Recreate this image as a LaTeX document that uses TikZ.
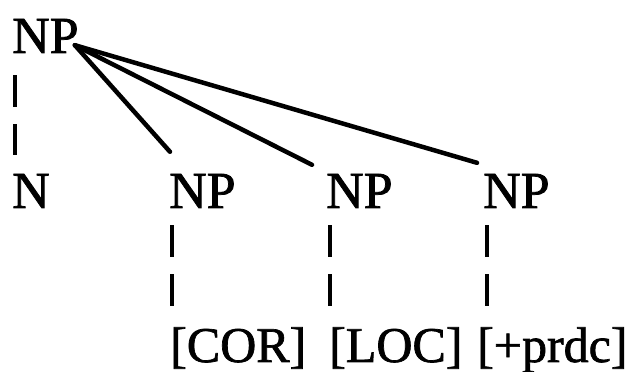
\documentclass[tikz,border=0pt]{standalone}
\usepackage{fontspec}
\newfontfamily\treefont{Liberation Serif}[FakeBold=1.4]
\usepackage{tikz}

\tikzset{
  cat/.style={font=\treefont\fontsize{52}{60}\selectfont, inner sep=0pt, anchor=base west,
    text height=35pt, text depth=0pt},
  feat/.style={cat, font=\treefont\fontsize{50}{60}\selectfont},
  branch/.style={line width=4.5pt, line cap=round},
  stalk/.style={line width=3.5pt, dash pattern=on 32pt off 17pt}
}

\begin{document}
\begin{tikzpicture}[x=1pt,y=1pt]
    \useasboundingbox (0,0) rectangle (638,372);
    % Top category
    \node[cat] (root) at (12,319) {NP};
    % Daughters
    \node[cat] (n)   at (12,164)  {N};
    \node[cat] (np1) at (169,164) {NP};
    \node[cat] (np2) at (326,164) {NP};
    \node[cat] (np3) at (483,164) {NP};
    % Features
    \node[feat] (cor)  at (170,10) {[COR]};
    \node[feat] (loc)  at (329,10) {[LOC]};
    \node[feat] (prdc) at (477,10) {[+prdc]};
    % Branch ends
    \coordinate (fork) at ([xshift=-4pt,yshift=8pt]root.south east);
    \coordinate (e1) at ([xshift=1pt,yshift=21pt]np1.north west);
    \coordinate (e2) at ([xshift=-14pt,yshift=8pt]np2.north west);
    \coordinate (e3) at ([xshift=-6pt,yshift=10pt]np3.north west);
    \draw[branch] (fork) -- (e1);
    \draw[branch] (fork) -- (e2);
    \draw[branch] (fork) -- (e3);
    % Dashed stalks
    \draw[stalk] ([xshift=3pt,yshift=-22pt]root.south west) -- ([xshift=3pt,yshift=18pt]n.north west);
    \draw[stalk] ([xshift=3pt,yshift=-17pt]np1.south west) -- ([xshift=3pt,yshift=16pt]np1.south west |- cor.north);
    \draw[stalk] ([xshift=4pt,yshift=-17pt]np2.south west) -- ([xshift=4pt,yshift=16pt]np2.south west |- loc.north);
    \draw[stalk] ([xshift=4pt,yshift=-17pt]np3.south west) -- ([xshift=4pt,yshift=16pt]np3.south west |- prdc.north);
\end{tikzpicture}
\end{document}
